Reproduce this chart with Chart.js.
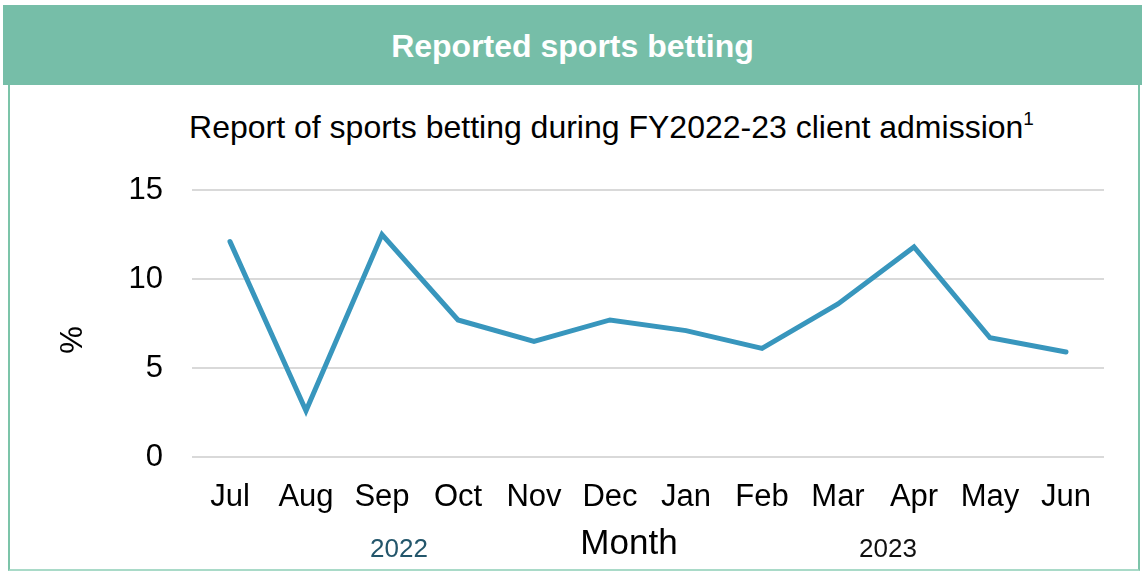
<!DOCTYPE html>
<html>
<head>
<meta charset="utf-8">
<script src="https://cdn.jsdelivr.net/npm/chart.js@4/dist/chart.umd.min.js"></script>
<style>
  html, body { margin: 0; padding: 0; background: #fff; }
  body { width: 1146px; height: 574px; position: relative; overflow: hidden;
         font-family: "Liberation Sans", Arial, sans-serif; }
  .frame { position: absolute; left: 8px; top: 5px; width: 1132px; height: 566px;
           border-left: 2px solid #7cc4a9; border-right: 2px solid #7cc4a9;
           border-bottom: 2px solid #a9dac8; box-sizing: border-box; }
  .header { position: absolute; left: 3px; top: 5px; width: 1139px; height: 80px;
            background: #76bea8; color: #fff; font-weight: bold; font-size: 32px;
            text-align: center; line-height: 82px; }
  .subtitle { position: absolute; left: 0; width: 1223px; top: 109px; text-align: center;
              font-size: 32px; color: #000; }
  .subtitle sup { font-size: 19px; vertical-align: 13px; line-height: 0; }
  #chart { position: absolute; left: 0; top: 0; }
</style>
</head>
<body>
<div class="frame"></div>
<div class="header">Reported sports betting</div>
<div class="subtitle">Report of sports betting during FY2022-23 client admission<sup>1</sup></div>
<canvas id="chart" width="1146" height="574"></canvas>
<script>
  // ======== Data ========
  const months = ["Jul", "Aug", "Sep", "Oct", "Nov", "Dec", "Jan", "Feb", "Mar", "Apr", "May", "Jun"];
  const betting = [12.1, 2.6, 12.5, 7.7, 6.5, 7.7, 7.1, 6.1, 8.6, 11.8, 6.7, 5.9];
  const yTicks = [0, 5, 10, 15];

  const FONT = '"Liberation Sans", Arial, sans-serif';

  // extra labels: % axis title, Month, year markers
  const extraLabels = {
    id: "extraLabels",
    afterDraw(chart) {
      const ctx = chart.ctx;
      ctx.save();
      ctx.fillStyle = "#000";
      ctx.textAlign = "center";
      ctx.textBaseline = "middle";

      ctx.save();
      ctx.translate(73, 340);
      ctx.rotate(-Math.PI / 2);
      ctx.font = "31px " + FONT;
      ctx.fillText("%", 0, 0);
      ctx.restore();

      ctx.font = "35px " + FONT;
      ctx.fillText("Month", 629, 544);

      ctx.font = "26px " + FONT;
      ctx.fillStyle = "#23566b";
      ctx.fillText("2022", 399, 550);
      ctx.fillStyle = "#111";
      ctx.fillText("2023", 888, 550);
      ctx.restore();
    },
  };

  new Chart(document.getElementById("chart"), {
    type: "line",
    data: {
      labels: months,
      datasets: [
        {
          label: "%",
          data: betting,
          borderColor: "#3896bd",
          borderWidth: 5,
          pointRadius: 0,
          tension: 0,
          borderCapStyle: "round",
          fill: false,
        },
      ],
    },
    options: {
      responsive: false,
      animation: false,
      layout: { padding: { top: 190, right: 42, bottom: 0, left: 0 } },
      plugins: {
        legend: { display: false },
        tooltip: { enabled: false },
      },
      scales: {
        x: {
          offset: true,
          grid: { display: false },
          border: { display: false },
          ticks: { color: "#000", font: { family: FONT, size: 31 }, padding: 14, maxRotation: 0, autoSkip: false },
          afterFit: (s) => { s.height = 117; },
        },
        y: {
          min: 0,
          max: 15,
          afterBuildTicks: (s) => { s.ticks = yTicks.map((v) => ({ value: v })); },
          grid: { color: "#d9d9d9", lineWidth: 2, drawTicks: false },
          border: { display: false },
          ticks: { color: "#000", font: { family: FONT, size: 31 }, padding: 29 },
          afterFit: (s) => { s.width = 192; },
        },
      },
    },
    plugins: [extraLabels],
  });
</script>
</body>
</html>
